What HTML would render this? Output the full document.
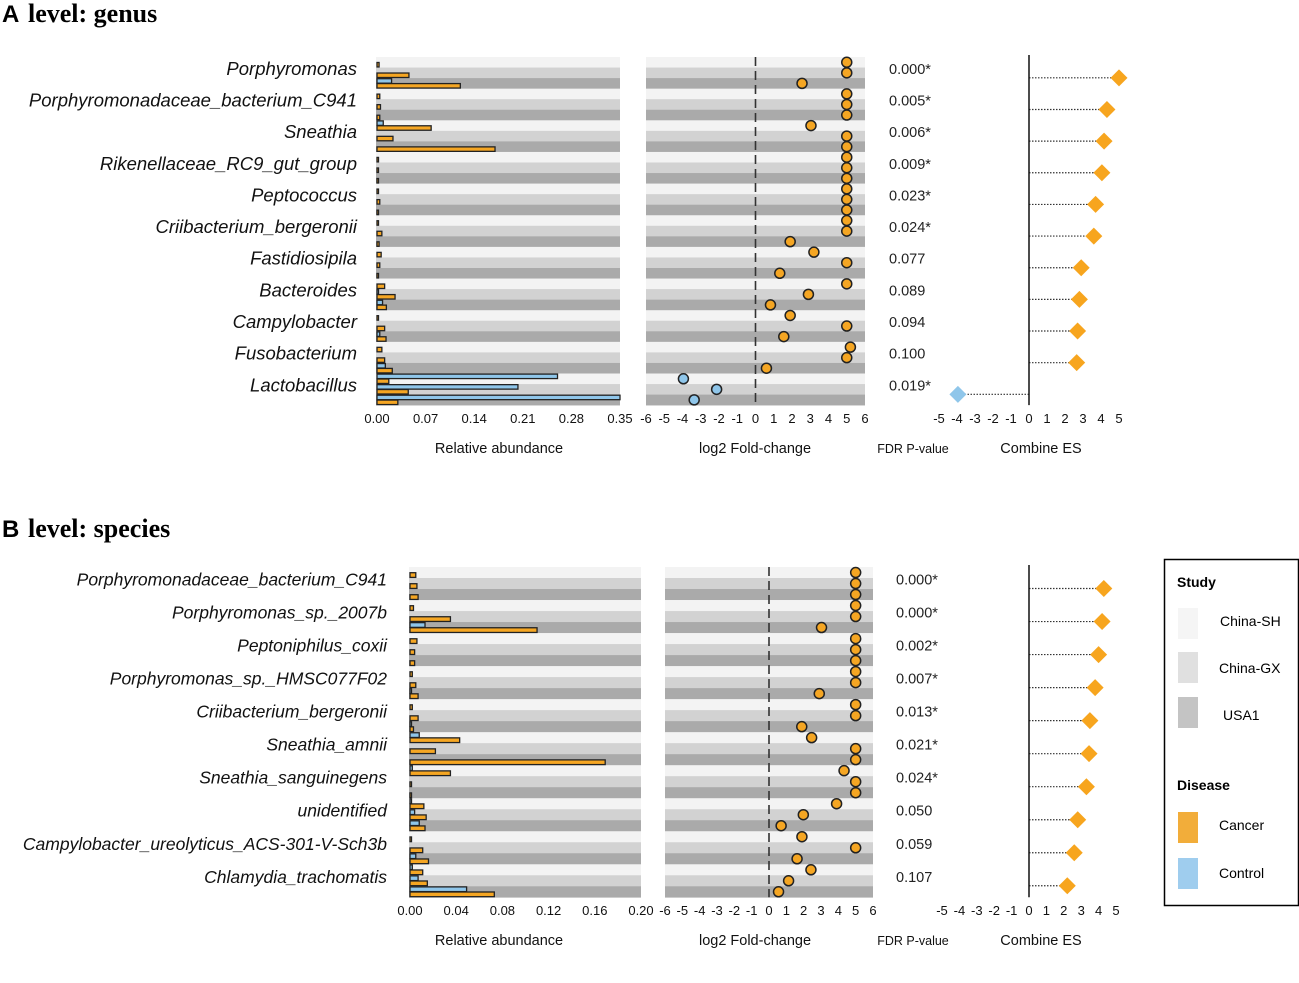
<!DOCTYPE html>
<html><head><meta charset="utf-8">
<style>
body{margin:0;background:#fff;width:1299px;height:983px;overflow:hidden;font-family:"Liberation Sans",sans-serif}
svg{display:block}
</style></head>
<body>
<svg id="chart" width="1299" height="983" viewBox="0 0 1299 983" xmlns="http://www.w3.org/2000/svg">
<g><text x="2" y="22" font-size="24" font-weight="bold" font-family="Liberation Sans">A</text><text x="28" y="22" font-size="26" font-weight="bold" font-family="Liberation Serif">level: genus</text></g>
<g><text x="2" y="537" font-size="24" font-weight="bold" font-family="Liberation Sans">B</text><text x="28" y="537" font-size="26" font-weight="bold" font-family="Liberation Serif">level: species</text></g>
<g>
<rect x="1164.5" y="559.5" width="134" height="346" fill="#fff" stroke="#000" stroke-width="1.5"/>
<text x="1177" y="587" font-size="14" font-weight="bold">Study</text>
<rect x="1178" y="608" width="20" height="31" fill="#f5f5f5"/><text x="1220" y="626" font-size="14">China-SH</text>
<rect x="1178" y="652" width="20" height="31" fill="#e0e0e0"/><text x="1219" y="673" font-size="14">China-GX</text>
<rect x="1178" y="697" width="20" height="31" fill="#c4c4c4"/><text x="1223" y="720" font-size="14">USA1</text>
<text x="1177" y="790" font-size="14" font-weight="bold">Disease</text>
<rect x="1178" y="812" width="20" height="31" fill="#f2ad3a"/><text x="1219" y="830" font-size="14">Cancer</text>
<rect x="1178" y="858" width="20" height="31" fill="#9fcdee"/><text x="1219" y="878" font-size="14">Control</text>
</g>
</svg>
<script>
// ---- Panel A data ----
const taxaA = ["Porphyromonas","Porphyromonadaceae_bacterium_C941","Sneathia","Rikenellaceae_RC9_gut_group","Peptococcus","Criibacterium_bergeronii","Fastidiosipila","Bacteroides","Campylobacter","Fusobacterium","Lactobacillus"];
const ctrlA = [null,null,0.021, null,null,null, 0.009,null,null, null,null,null, null,null,null, null,null,null, null,null,null, null,0.002,0.008, null,null,0.004, null,null,0.012, 0.26,0.203,0.35];
const cancA = [0.003,0.046,0.12, 0.004,0.005,0.004, 0.078,0.023,0.17, 0.001,0.002,0.002, 0.002,0.004,0.001, 0.001,0.007,0.003, 0.006,0.004,0.001, 0.011,0.026,0.0135, 0.001,0.011,0.013, 0.007,0.011,0.022, 0.017,0.045,0.03];
const fcA = [5,5,2.55, 5,5,5, 3.04,5,5, 5,5,5, 5,5,5, 5,5,1.9, 3.2,5,1.33, 5,2.9,0.82, 1.9,5,1.55, 5.2,5,0.6, -3.95,-2.13,-3.36];
const pA = ["0.000*","0.005*","0.006*","0.009*","0.023*","0.024*","0.077","0.089","0.094","0.100","0.019*"];
const esA = [5.0,4.33,4.17,4.05,3.7,3.6,2.9,2.8,2.7,2.65,-3.95];
const barTicksA = ["0.00","0.07","0.14","0.21","0.28","0.35"];
// ---- Panel B data ----
const taxaB = ["Porphyromonadaceae_bacterium_C941","Porphyromonas_sp._2007b","Peptoniphilus_coxii","Porphyromonas_sp._HMSC077F02","Criibacterium_bergeronii","Sneathia_amnii","Sneathia_sanguinegens","unidentified","Campylobacter_ureolyticus_ACS-301-V-Sch3b","Chlamydia_trachomatis"];
const ctrlB = [null,null,null, null,null,0.013, null,null,null, null,null,0.001, null,null,0.001, 0.008,null,null, 0.002,null,null, 0.001,0.004,0.008, null,null,0.005, 0.002,0.007,0.049];
const cancB = [0.005,0.006,0.007, 0.003,0.035,0.11, 0.006,0.004,0.004, 0.002,0.005,0.007, 0.002,0.007,0.003, 0.043,0.022,0.169, 0.035,0.001,0.001, 0.012,0.014,0.013, 0.001,0.011,0.016, 0.011,0.015,0.073];
const fcB = [5,5,5, 5,5,3.03, 5,5,5, 5,5,2.9, 5,5,1.89, 2.46,5,5, 4.33,5,5, 3.9,1.98,0.7, 1.9,5,1.62, 2.42,1.13,0.55];
const pB = ["0.000*","0.000*","0.002*","0.007*","0.013*","0.021*","0.024*","0.050","0.059","0.107"];
const esB = [4.3,4.2,4.0,3.8,3.5,3.45,3.3,2.8,2.6,2.2];
const barTicksB = ["0.00","0.04","0.08","0.12","0.16","0.20"];
const fcTicks = [-6,-5,-4,-3,-2,-1,0,1,2,3,4,5,6];
const esTicks = [-5,-4,-3,-2,-1,0,1,2,3,4,5];

const NS="http://www.w3.org/2000/svg";
const svg=document.getElementById('chart');
function mk(tag,attrs,parent){const e=document.createElementNS(NS,tag);for(const k in attrs)e.setAttribute(k,attrs[k]);(parent||svg).appendChild(e);return e;}
const ORANGE="#f5a623",BLUE="#8fc6ea",STRIPES=["#f3f3f3","#d2d2d2","#aaaaaa"];

function panel(c){
  const g=mk('g',{});
  
  
  const n=c.canc.length;
  const y=i=>c.top+i*c.rh;
  const xb=v=>c.bx0+v/c.bmax*(c.bx1-c.bx0);
  const xf=v=>c.fx0+(v+6)/12*(c.fx1-c.fx0);
  const xe=v=>c.ex0+(v+5)/10*(c.ex1-c.ex0);
  for(let i=0;i<n;i++){
    const s=mk('rect',{x:c.bx0-1,y:y(i),width:c.bx1-c.bx0+1,height:c.rh+0.3,fill:STRIPES[i%3]},g);
    
    
    const s2=mk('rect',{x:c.fx0,y:y(i),width:c.fx1-c.fx0,height:c.rh+0.3,fill:STRIPES[i%3]},g);
    
    
  }
  const zl=mk('line',{x1:xf(0),x2:xf(0),y1:c.top,y2:y(n),stroke:'#333','stroke-width':1.6,'stroke-dasharray':'9,5'},g);
  
  
  const bh=c.rh/2-0.8;
  for(let i=0;i<n;i++){
    if(c.ctrl[i]!=null){
      const b=mk('rect',{x:c.bx0,y:y(i)+0.6,width:Math.max(1.5,xb(c.ctrl[i])-c.bx0),height:bh,fill:BLUE,stroke:'#222','stroke-width':1.3},g);
      
      
    }
    if(c.canc[i]!=null){
      const b=mk('rect',{x:c.bx0,y:y(i)+c.rh/2+0.2,width:Math.max(1.5,xb(c.canc[i])-c.bx0),height:bh,fill:ORANGE,stroke:'#222','stroke-width':1.3},g);
      
      
    }
    if(c.fc[i]!=null){
      const d=mk('circle',{cx:xf(c.fc[i]),cy:y(i)+c.rh/2,r:5,fill:c.fc[i]<0?BLUE:ORANGE,stroke:'#222','stroke-width':1.5},g);
      
      
    }
  }
  const bh3=c.rh*3;
  for(let k=0;k<c.taxa.length;k++){
    const cy=c.top+k*bh3+bh3/2;
    const t=mk('text',{x:c.lx,y:cy+2,'font-size':c.lfs,'font-style':'italic','text-anchor':'end',fill:'#111'},g);
    t.textContent=c.taxa[k];
    
    
    const p=mk('text',{x:c.px,y:cy+1,'font-size':14.5,fill:'#222'},g);
    p.textContent=c.p[k];
    
    
    const ey=cy+5;
    const dl=mk('line',{x1:xe(0),x2:xe(c.es[k]),y1:ey,y2:ey,stroke:'#333','stroke-width':1.2,'stroke-dasharray':'1.5,1.5'},g);
    
    
    const ex=xe(c.es[k]),r=8.5;
    const dm=mk('polygon',{points:`${ex},${ey-r} ${ex+r},${ey} ${ex},${ey+r} ${ex-r},${ey}`,fill:c.es[k]<0?BLUE:'#f7a51e'},g);
    
    
  }
  const ax=mk('line',{x1:xe(0),x2:xe(0),y1:c.top-2,y2:y(n),stroke:'#111','stroke-width':1.5},g);
  
  
  const ty=c.tickY;
  c.barTicks.forEach((lab,i)=>{
    const t=mk('text',{x:c.bx0+i/(c.barTicks.length-1)*(c.bx1-c.bx0),y:ty,'font-size':13,'text-anchor':'middle',fill:'#111'},g);
    t.textContent=lab;
    
    
  });
  fcTicks.forEach(v=>{
    const t=mk('text',{x:xf(v),y:ty,'font-size':13,'text-anchor':'middle',fill:'#111'},g);
    t.textContent=v;
    
    
  });
  esTicks.forEach(v=>{
    const t=mk('text',{x:xe(v),y:ty,'font-size':13,'text-anchor':'middle',fill:'#111'},g);
    t.textContent=v;
    
    
  });
  const titles=[["Relative abundance",499,14.5],["log2 Fold-change",755,14.5],["FDR P-value",913,12.5],["Combine ES",1041,14.5]];
  titles.forEach(([s,x,fs])=>{
    const t=mk('text',{x:x,y:ty+30,'font-size':fs,'text-anchor':'middle',fill:'#111'},g);
    t.textContent=s;
    
    
  });
}
panel({name:'panel-a-genus',taxa:taxaA,ctrl:ctrlA,canc:cancA,fc:fcA,p:pA,es:esA,barTicks:barTicksA,bmax:0.35,lfs:18.5,
  top:57,rh:10.55,bx0:377,bx1:620,fx0:646,fx1:865,ex0:939,ex1:1119,lx:357,px:889,tickY:423});
panel({name:'panel-b-species',taxa:taxaB,ctrl:ctrlB,canc:cancB,fc:fcB,p:pB,es:esB,barTicks:barTicksB,bmax:0.20,lfs:17.5,
  top:567,rh:11.01,bx0:410,bx1:641,fx0:665,fx1:873,ex0:942,ex1:1116,lx:387,px:896,tickY:915});
</script>
</body></html>
